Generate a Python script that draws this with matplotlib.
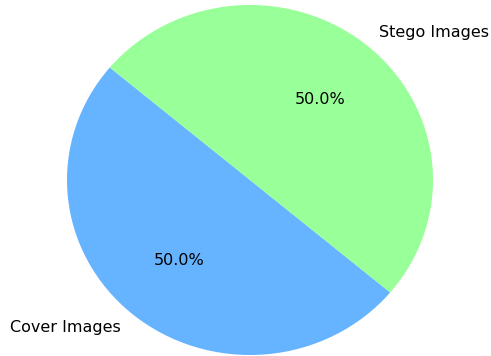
import matplotlib
matplotlib.use("Agg")
import matplotlib.pyplot as plt

labels = ["Cover Images", "Stego Images"]
sizes = [50, 50]
colors = ["#66b3ff", "#99ff99"]

fig = plt.figure(figsize=(4.91, 3.56), dpi=100)
ax = fig.add_axes([0, 0, 1, 1])
ax.pie(sizes, labels=labels, colors=colors, autopct="%1.1f%%", startangle=140,
       textprops={"fontsize": 11.5})
ax.set_xlim(-250 / 183, 241 / 183)
ax.set_ylim(-176 / 175, 180 / 175)
ax.set_aspect("auto")
ax.axis("off")
fig.savefig("out.png", dpi=100)
